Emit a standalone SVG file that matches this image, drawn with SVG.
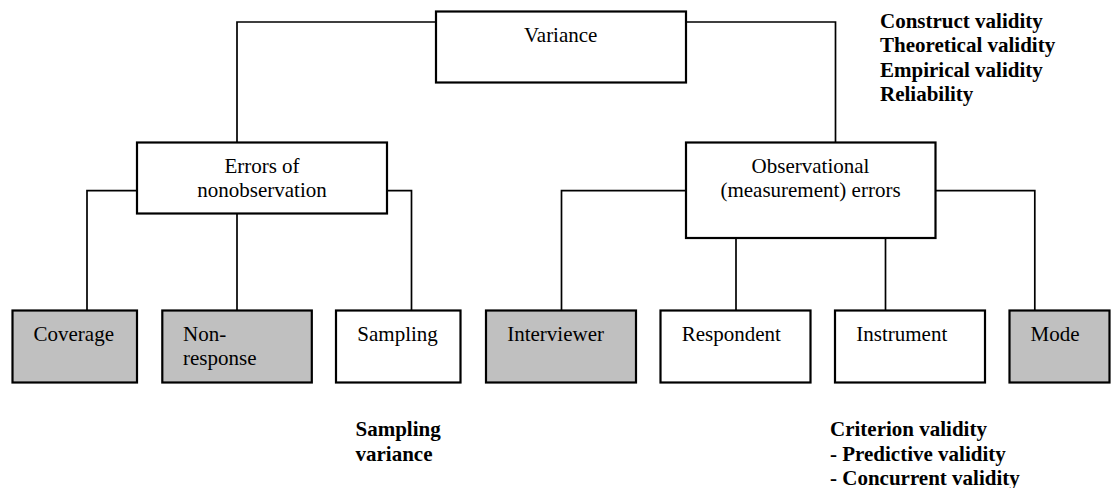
<svg xmlns="http://www.w3.org/2000/svg" width="1111" height="488" viewBox="0 0 1111 488">
  <style>
    .box { fill: #ffffff; stroke: #000000; stroke-width: 2.2; }
    .box.shaded { fill: #c0c0c0; }
    .link { fill: none; stroke: #000000; stroke-width: 1.7; }
    text { font-family: "Liberation Serif", "Times New Roman", serif; font-size: 21px; fill: #000000; }
    .mid { text-anchor: middle; }
    .note { font-weight: bold; }
  </style>
  <rect width="1111" height="488" fill="#ffffff"/>

  <!-- connectors -->
  <g id="connectors">
    <path class="link" d="M436,22 H237 V142.5"/>
    <path class="link" d="M686,22 H835.5 V142.5"/>
    <path class="link" d="M137,190.7 H87 V310.5"/>
    <path class="link" d="M387,190.7 H411.5 V310.5"/>
    <path class="link" d="M237,213.5 V310.5"/>
    <path class="link" d="M686,190.7 H561.5 V310.5"/>
    <path class="link" d="M935.5,190.7 H1034.8 V310.5"/>
    <path class="link" d="M736,238 V310.5"/>
    <path class="link" d="M885.5,238 V310.5"/>
  </g>

  <!-- top level -->
  <g id="variance">
    <rect class="box" x="436" y="11.5" width="250" height="71"/>
    <text class="mid" x="560.7" y="42">Variance</text>
  </g>

  <!-- second level -->
  <g id="nonobservation">
    <rect class="box" x="137" y="142.5" width="250" height="71"/>
    <text class="mid" x="262" y="172.7">Errors of</text>
    <text class="mid" x="262" y="196.7">nonobservation</text>
  </g>
  <g id="observational">
    <rect class="box" x="686" y="142.5" width="249.5" height="95.5"/>
    <text class="mid" x="810.5" y="172.7">Observational</text>
    <text class="mid" x="810.5" y="196.7">(measurement) errors</text>
  </g>

  <!-- error sources -->
  <g id="coverage">
    <rect class="box shaded" x="12.5" y="310.5" width="124.5" height="72"/>
    <text x="33.5" y="341">Coverage</text>
  </g>
  <g id="nonresponse">
    <rect class="box shaded" x="162.3" y="310.5" width="149.5" height="72"/>
    <text x="183" y="341">Non-</text>
    <text x="183" y="365">response</text>
  </g>
  <g id="sampling">
    <rect class="box" x="336" y="310.5" width="124.5" height="72"/>
    <text x="357.3" y="341">Sampling</text>
  </g>
  <g id="interviewer">
    <rect class="box shaded" x="486" y="310.5" width="150" height="72"/>
    <text x="507.2" y="341">Interviewer</text>
  </g>
  <g id="respondent">
    <rect class="box" x="660.5" y="310.5" width="150" height="72"/>
    <text x="681.8" y="341">Respondent</text>
  </g>
  <g id="instrument">
    <rect class="box" x="835" y="310.5" width="150" height="72"/>
    <text x="856.3" y="341">Instrument</text>
  </g>
  <g id="mode">
    <rect class="box shaded" x="1009.5" y="310.5" width="100" height="72"/>
    <text x="1030.5" y="341">Mode</text>
  </g>

  <!-- annotations -->
  <g id="validity-notes">
    <text class="note" x="880" y="27.5">Construct validity</text>
    <text class="note" x="880" y="52">Theoretical validity</text>
    <text class="note" x="880" y="76.5">Empirical validity</text>
    <text class="note" x="880" y="101">Reliability</text>
  </g>
  <g id="sampling-note">
    <text class="note" x="355.5" y="436">Sampling</text>
    <text class="note" x="355.5" y="460.5">variance</text>
  </g>
  <g id="criterion-note">
    <text class="note" x="830" y="436">Criterion validity</text>
    <text class="note" x="830" y="460.5">- Predictive validity</text>
    <text class="note" x="830" y="485">- Concurrent validity</text>
  </g>
</svg>
